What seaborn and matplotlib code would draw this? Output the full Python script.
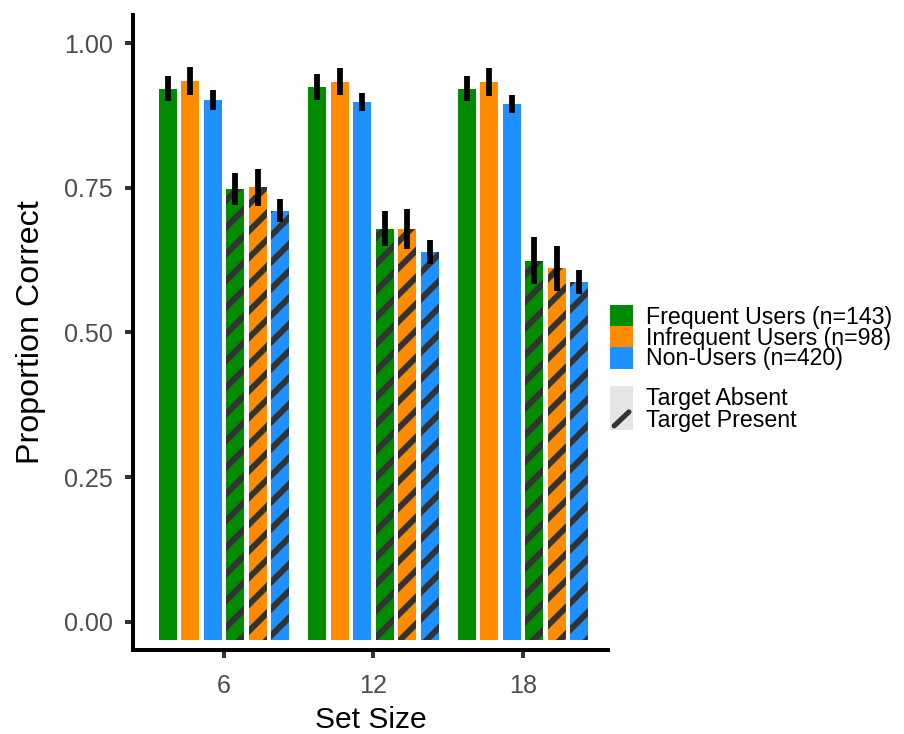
import numpy as np
import pandas as pd
import matplotlib
matplotlib.use("Agg")
import matplotlib.pyplot as plt
import seaborn as sns
from matplotlib.patches import Patch, Rectangle
from matplotlib.lines import Line2D
from matplotlib.legend_handler import HandlerBase

# ---------------- data ----------------
set_sizes = ["6", "12", "18"]
user_groups = ["Frequent Users (n=143)", "Infrequent Users (n=98)", "Non-Users (n=420)"]
target_conditions = ["Target Absent", "Target Present"]

freq_absent = [0.921, 0.924, 0.921]
infreq_absent = [0.934, 0.933, 0.933]
non_absent = [0.902, 0.898, 0.895]
freq_present = [0.748, 0.679, 0.624]
infreq_present = [0.751, 0.679, 0.611]
non_present = [0.710, 0.639, 0.587]

freq_absent_err = [0.022, 0.022, 0.022]
infreq_absent_err = [0.024, 0.023, 0.024]
non_absent_err = [0.017, 0.016, 0.016]
freq_present_err = [0.028, 0.030, 0.041]
infreq_present_err = [0.032, 0.034, 0.039]
non_present_err = [0.020, 0.021, 0.021]

group_colors = ["#008B00", "#FF8C00", "#1E90FF"]
yticks = [0.0, 0.25, 0.5, 0.75, 1.0]
ytick_labels = ["0.00", "0.25", "0.50", "0.75", "1.00"]

# ---------------- long table ----------------
series = [
    (user_groups[0], target_conditions[0], freq_absent, freq_absent_err),
    (user_groups[1], target_conditions[0], infreq_absent, infreq_absent_err),
    (user_groups[2], target_conditions[0], non_absent, non_absent_err),
    (user_groups[0], target_conditions[1], freq_present, freq_present_err),
    (user_groups[1], target_conditions[1], infreq_present, infreq_present_err),
    (user_groups[2], target_conditions[1], non_present, non_present_err),
]
rows = []
hue_order = []
for grp, cond, vals, errs in series:
    key = f"{grp} | {cond}"
    hue_order.append(key)
    for s, v, e in zip(set_sizes, vals, errs):
        for val in (v - e, v, v + e):
            rows.append({"Set Size": s, "bar": key, "Proportion Correct": val})
df = pd.DataFrame(rows)
palette = dict(zip(hue_order, group_colors * 2))

# ---------------- plot ----------------
DPI = 160
sns.set_style("ticks")
plt.rcParams["font.family"] = ["Liberation Sans", "DejaVu Sans"]
plt.rcParams["hatch.linewidth"] = 2.7

fig = plt.figure(figsize=(904 / DPI, 734 / DPI), dpi=DPI)
ax = fig.add_axes([133 / 904, 1 - 650 / 734, (608 - 133) / 904, (650 - 15) / 734])

sns.barplot(
    data=df, x="Set Size", y="Proportion Correct", hue="bar",
    order=set_sizes, hue_order=hue_order, palette=palette,
    estimator="mean", errorbar=lambda x: (np.min(x), np.max(x)),
    width=0.9, gap=0.2, saturation=1, linewidth=0,
    err_kws={"color": "black", "linewidth": 2.6, "solid_capstyle": "butt"},
    legend=False, ax=ax,
)

bar_floor = -0.031
for i, cont in enumerate(ax.containers):
    for p in cont.patches:
        h = p.get_height()
        p.set_y(bar_floor)
        p.set_height(h - bar_floor)
        p.set_linewidth(0)
        if i >= 3:
            p.set_edgecolor("#333333")
            p.set_hatch("//")

ax.set_xlim(-0.609, 2.569)
ax.set_ylim(-0.0484, 1.0484)
ax.set_yticks(yticks)
ax.set_yticklabels(ytick_labels)

for side in ["top", "right"]:
    ax.spines[side].set_visible(False)
for side in ["left", "bottom"]:
    ax.spines[side].set_color("black")
    ax.spines[side].set_linewidth(1.8)

ax.tick_params(axis="both", direction="out", length=3.6, width=1.8,
               color="#333333", labelcolor="#4D4D4D", labelsize=11.3,
               bottom=True, left=True)
ax.tick_params(axis="y", pad=5.5)
ax.tick_params(axis="x", pad=7)
ax.set_xlabel("Set Size", fontsize=13.5, color="black", labelpad=4)
ax.set_ylabel("Proportion Correct", fontsize=14.5, color="black", labelpad=8)

# ---------------- legends ----------------
class SlashHandler(HandlerBase):
    def create_artists(self, legend, orig_handle, xdescent, ydescent,
                       width, height, fontsize, trans):
        x0, y0 = -xdescent, -ydescent
        r = Rectangle((x0, y0), width, height, facecolor="#E5E5E5",
                      edgecolor="none", transform=trans)
        l = Line2D([x0 + width * 0.18, x0 + width * 0.82],
                   [y0 + height * 0.18, y0 + height * 0.82],
                   color="#333333", lw=2.3, solid_capstyle="round",
                   transform=trans)
        return [r, l]


class BoxHandler(HandlerBase):
    def create_artists(self, legend, orig_handle, xdescent, ydescent,
                       width, height, fontsize, trans):
        r = Rectangle((-xdescent, -ydescent), width, height,
                      facecolor=orig_handle.get_facecolor(),
                      edgecolor="none", transform=trans)
        return [r]


color_handles = [Patch(facecolor=c) for c in group_colors]
leg1 = fig.legend(color_handles, user_groups, loc="upper left",
                  bbox_to_anchor=(610 / 904, 1 - 305 / 734),
                  frameon=False, fontsize=10.4, borderpad=0, borderaxespad=0,
                  handlelength=1.0, handleheight=1.08, labelspacing=-0.13,
                  handletextpad=0.55,
                  handler_map={Patch: BoxHandler()})

class PresentKey:
    pass

cond_handles = [Patch(facecolor="#E5E5E5"), PresentKey()]
leg2 = fig.legend(cond_handles, target_conditions, loc="upper left",
                  bbox_to_anchor=(610 / 904, 1 - 386 / 734),
                  frameon=False, fontsize=10.4, borderpad=0, borderaxespad=0,
                  handlelength=1.0, handleheight=1.08, labelspacing=-0.08,
                  handletextpad=0.55,
                  handler_map={Patch: BoxHandler(), PresentKey: SlashHandler()})
for leg in (leg1, leg2):
    for t in leg.get_texts():
        t.set_color("black")

fig.savefig("out.png", dpi=DPI, facecolor="white")
